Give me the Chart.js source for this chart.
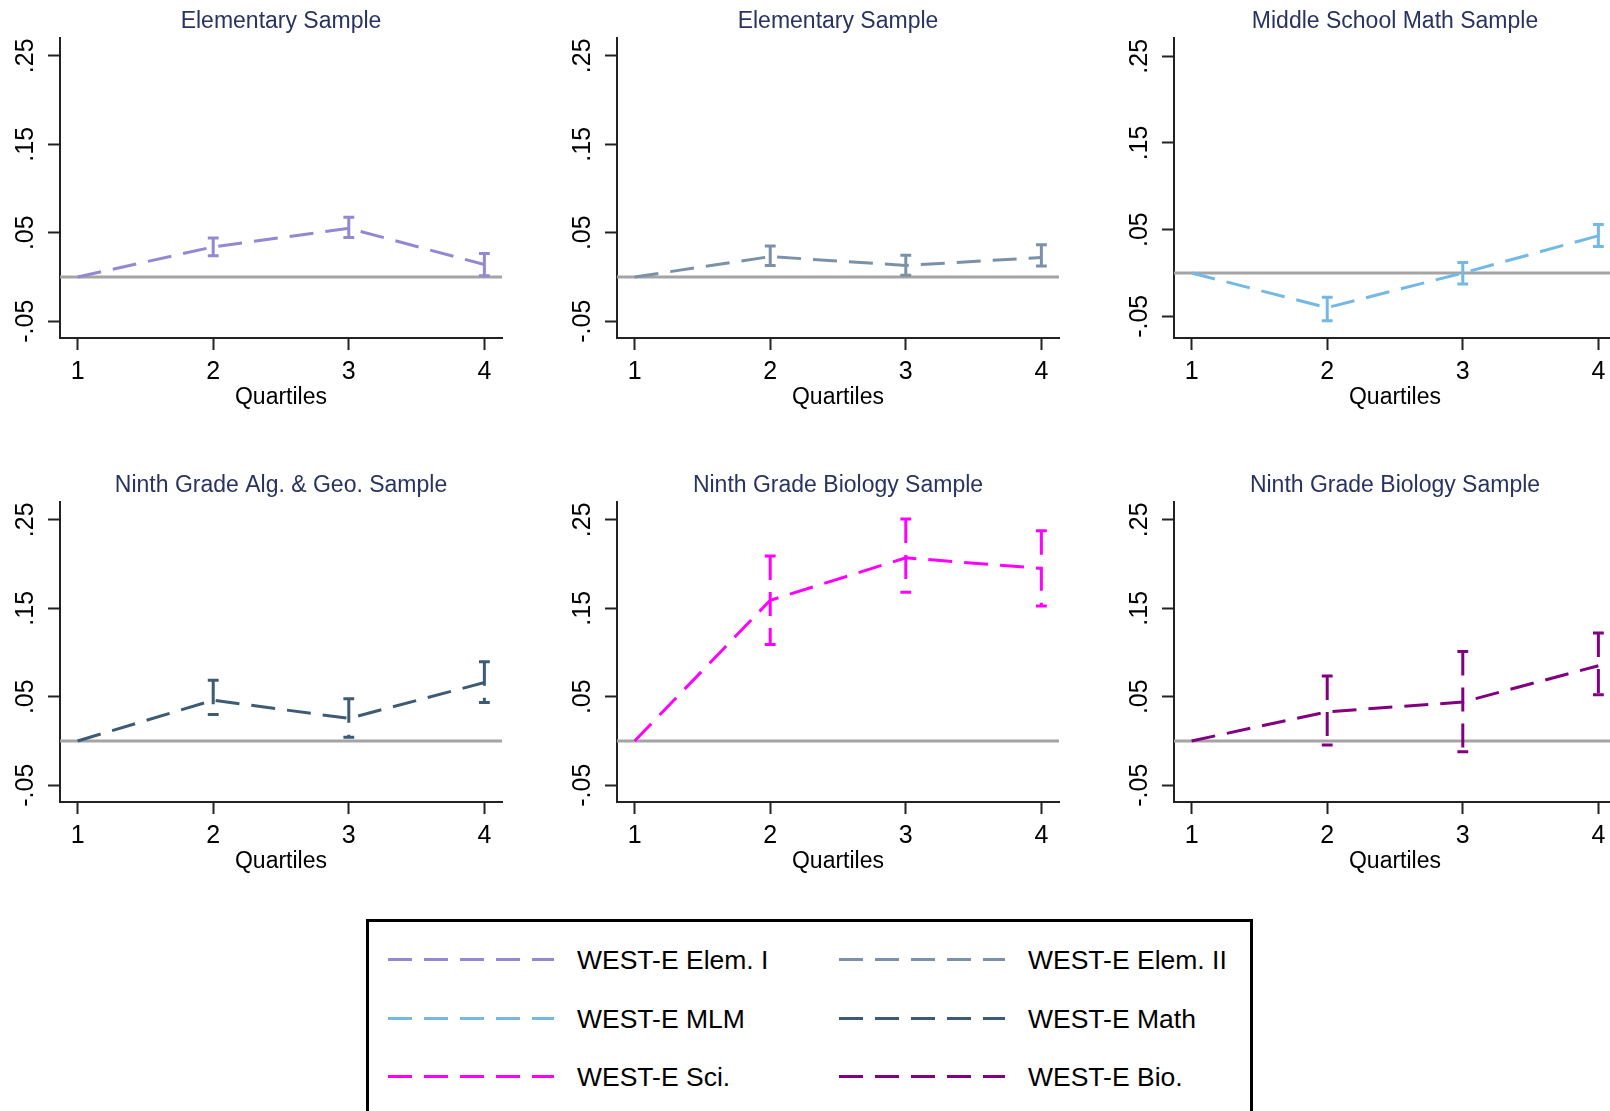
<!DOCTYPE html>
<html>
<head>
<meta charset="utf-8">
<script src="https://cdn.jsdelivr.net/npm/chart.js@4/dist/chart.umd.min.js"></script>
<style>
  html, body { margin: 0; padding: 0; background: #fff; }
  body { width: 1610px; height: 1111px; overflow: hidden; position: relative; font-family: "Liberation Sans", Arial, sans-serif; }
  .panel { position: absolute; }
  .panel canvas { display: block; }
  #legend { position: absolute; left: 366px; top: 919px; width: 887px; height: 240px; border: 3px solid #000; box-sizing: border-box; }
  .item { position: absolute; height: 30px; }
  .sample { position: absolute; left: 0; top: 13px; width: 166px; height: 3px; }
  .label { position: absolute; left: 189px; top: 0; font-size: 26.5px; line-height: 30px; color: #000; white-space: nowrap; }
</style>
</head>
<body>
<div class="panel" style="left:0px;top:0px"><canvas id="p0" width="520" height="420"></canvas></div>
<div class="panel" style="left:557px;top:0px"><canvas id="p1" width="520" height="420"></canvas></div>
<div class="panel" style="left:1114px;top:0px"><canvas id="p2" width="520" height="420"></canvas></div>
<div class="panel" style="left:0px;top:464px"><canvas id="p3" width="520" height="420"></canvas></div>
<div class="panel" style="left:557px;top:464px"><canvas id="p4" width="520" height="420"></canvas></div>
<div class="panel" style="left:1114px;top:464px"><canvas id="p5" width="520" height="420"></canvas></div>
<div id="legend"></div>
<script>
// Quartile positions and axis labels
const quartiles = [1, 2, 3, 4];
const xTickLabels = ['1', '2', '3', '4'];
const yTickValues = [-0.05, 0.05, 0.15, 0.25];
const yTickLabels = ['-.05', '.05', '.15', '.25'];

const panelTitles = [
  'Elementary Sample',
  'Elementary Sample',
  'Middle School Math Sample',
  'Ninth Grade Alg. & Geo. Sample',
  'Ninth Grade Biology Sample',
  'Ninth Grade Biology Sample'
];
const seriesNames = [
  'WEST-E Elem. I', 'WEST-E Elem. II', 'WEST-E MLM',
  'WEST-E Math', 'WEST-E Sci.', 'WEST-E Bio.'
];

// Point estimates by quartile (quartile 1 is the reference group)
const elemI   = [0, 0.034, 0.055, 0.014];
const elemII  = [0, 0.023, 0.013, 0.022];
const mlm     = [0, -0.040, 0.000, 0.043];
const math    = [0, 0.046, 0.0255, 0.066];
const sci     = [0, 0.159, 0.207, 0.195];
const bio     = [0, 0.033, 0.044, 0.085];

// Confidence interval bounds
const elemILo  = [null, 0.024, 0.0445, 0.0015];
const elemIHi  = [null, 0.044, 0.0675, 0.0265];
const elemIILo = [null, 0.013, 0.002, 0.0125];
const elemIIHi = [null, 0.035, 0.0245, 0.0365];
const mlmLo    = [null, -0.055, -0.0128, 0.0305];
const mlmHi    = [null, -0.028, 0.012, 0.056];
const mathLo   = [null, 0.030, 0.0043, 0.0436];
const mathHi   = [null, 0.0685, 0.0477, 0.0896];
const sciLo    = [null, 0.109, 0.168, 0.1526];
const sciHi    = [null, 0.209, 0.251, 0.2375];
const bioLo    = [null, -0.0047, -0.0123, 0.0523];
const bioHi    = [null, 0.0734, 0.101, 0.122];

// Vertical axis range of each panel
const yMins = [-0.069, -0.069, -0.075, -0.069, -0.069, -0.069];
const yMaxs = [0.27, 0.27, 0.271, 0.27, 0.27, 0.27];

const estimates = [elemI, elemII, mlm, math, sci, bio];
const lows  = [elemILo, elemIILo, mlmLo, mathLo, sciLo, bioLo];
const highs = [elemIHi, elemIIHi, mlmHi, mathHi, sciHi, bioHi];

const colors = ['#9389d2', '#7b91a9', '#74b8e6', '#3d5b74', '#ff00ff', '#800080'];
const FONT = '"Liberation Sans", Arial, sans-serif';
const X_MIN = 0.87, X_MAX = 4.13;
const CAP = 0.04;          // half cap width in quartile units
const DASH = [24, 12];

function ciPoints(lo, hi) {
  const out = [];
  quartiles.forEach((q, i) => {
    if (lo[i] == null) return;
    out.push({x: q - CAP, y: hi[i]}, {x: q + CAP, y: hi[i]}, {x: q, y: null});
    out.push({x: q, y: hi[i]}, {x: q, y: lo[i]}, {x: q, y: null});
    out.push({x: q - CAP, y: lo[i]}, {x: q + CAP, y: lo[i]}, {x: q, y: null});
  });
  return out;
}

const axisGrid = {
  drawOnChartArea: false, drawTicks: true, tickLength: 12,
  tickWidth: 2, tickColor: '#222', color: '#222'
};

function makePanel(k) {
  const color = colors[k];
  new Chart(document.getElementById('p' + k), {
    type: 'line',
    data: {
      datasets: [
        {
          data: quartiles.map((q, i) => ({x: q, y: estimates[k][i]})),
          borderColor: color, borderWidth: 3, borderDash: DASH,
          pointRadius: 0, tension: 0, fill: false
        },
        {
          data: ciPoints(lows[k], highs[k]),
          borderColor: color, borderWidth: 3, borderDash: DASH,
          pointRadius: 0, tension: 0, fill: false, spanGaps: false
        },
        {
          data: [{x: X_MIN, y: 0}, {x: X_MAX, y: 0}],
          borderColor: '#a4a4a4', borderWidth: 3,
          pointRadius: 0, fill: false
        }
      ]
    },
    options: {
      responsive: false,
      animation: false,
      devicePixelRatio: 1,
      layout: {padding: {left: 0, right: 18, top: 0, bottom: 0}},
      plugins: {
        legend: {display: false},
        tooltip: {enabled: false},
        title: {
          display: true, text: panelTitles[k], fullSize: false,
          color: '#28345f', font: {family: FONT, size: 23, weight: 'normal'},
          padding: {top: 8, bottom: 2.5}
        }
      },
      scales: {
        x: {
          type: 'linear', min: X_MIN, max: X_MAX,
          afterBuildTicks: s => { s.ticks = quartiles.map(v => ({value: v})); },
          afterFit: s => { s.height = 82; },
          ticks: {
            callback: v => xTickLabels[quartiles.indexOf(v)],
            color: '#000', font: {family: FONT, size: 25}, padding: 7,
            maxRotation: 0, autoSkip: false
          },
          grid: axisGrid,
          border: {display: true, color: '#222', width: 2},
          title: {
            display: true, text: 'Quartiles', color: '#000',
            font: {family: FONT, size: 23}, padding: {top: 0, bottom: 9}
          }
        },
        y: {
          type: 'linear', min: yMins[k], max: yMaxs[k],
          afterBuildTicks: s => { s.ticks = yTickValues.map(v => ({value: v})); },
          afterFit: s => { s.width = 60; },
          ticks: {
            callback: v => yTickLabels[yTickValues.indexOf(v)],
            color: '#000', font: {family: FONT, size: 25}, padding: 0,
            minRotation: 90, maxRotation: 90, crossAlign: 'center', autoSkip: false
          },
          grid: axisGrid,
          border: {display: true, color: '#222', width: 2}
        }
      }
    }
  });
}

for (let k = 0; k < 6; k++) makePanel(k);

// Legend: two columns, three rows
const legend = document.getElementById('legend');
const legendOrder = [0, 1, 2, 3, 4, 5];
legendOrder.forEach((k, idx) => {
  const col = idx % 2, row = Math.floor(idx / 2);
  const item = document.createElement('div');
  item.className = 'item';
  item.style.left = (col === 0 ? 19 : 470) + 'px';
  item.style.top = (23 + row * 58.5) + 'px';
  const sample = document.createElement('div');
  sample.className = 'sample';
  sample.style.background = 'repeating-linear-gradient(to right, ' + colors[k] +
    ' 0 24px, transparent 24px 36px)';
  const label = document.createElement('div');
  label.className = 'label';
  label.textContent = seriesNames[k];
  item.appendChild(sample);
  item.appendChild(label);
  legend.appendChild(item);
});
</script>
</body>
</html>
